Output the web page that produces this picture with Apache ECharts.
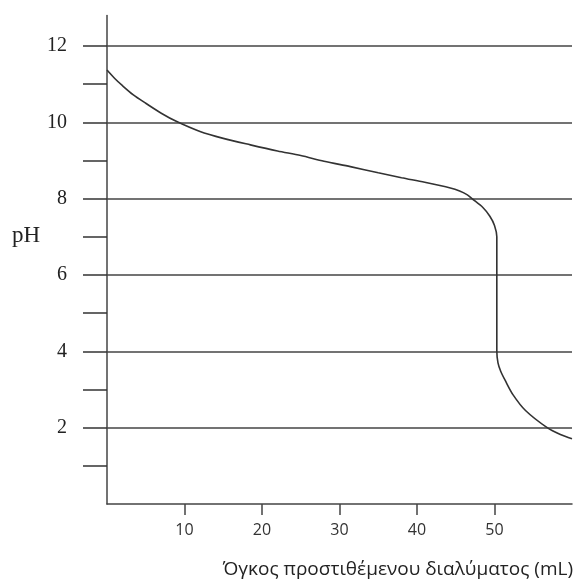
<!DOCTYPE html>
<html>
<head>
<meta charset="utf-8">
<script src="https://cdn.jsdelivr.net/npm/echarts@6/dist/echarts.min.js"></script>
<style>
html,body{margin:0;padding:0;background:#fff;}
#chart{width:581px;height:579px;}
</style>
</head>
<body>
<div id="chart"></div>
<script>
var volume = [0, 1, 2, 3.4, 5, 7, 9, 12, 15, 18.5, 22, 25, 28, 31.4, 35, 38, 41, 44.3, 45.5, 46.5, 47.1, 48.5, 49.4, 50.0, 50.3, 50.3, 50.45, 50.8, 51.4, 52.4, 54, 56.8, 58.5, 60];
var phValues = [11.37, 11.15, 10.96, 10.72, 10.5, 10.24, 10.02, 9.76, 9.58, 9.41, 9.25, 9.13, 8.98, 8.84, 8.68, 8.55, 8.43, 8.28, 8.2, 8.1, 8.0, 7.77, 7.54, 7.3, 7.0, 4.0, 3.7, 3.48, 3.23, 2.86, 2.45, 2.0, 1.82, 1.71];
var yTicks = [1,2,3,4,5,6,7,8,9,10,11,12];
var yLabels = [2,4,6,8,10,12];
var xTicks = [10,20,30,40,50];
var xLabels = [10,20,30,40,50];
var yName = 'pH';
var xName = 'Όγκος προστιθέμενου διαλύματος (mL)';

var chart = echarts.init(document.getElementById('chart'));
var data = volume.map(function(v, i){ return [v, phValues[i]]; });
chart.setOption({
  animation: false,
  backgroundColor: '#fff',
  title: [
    {text: yName, left: 12, top: 224, padding: 0, textStyle: {fontFamily: 'Liberation Serif', fontSize: 23, fontWeight: 'normal', color: '#222'}},
    {text: xName, right: 8, top: 560, padding: 0, textStyle: {fontFamily: 'Open Sans', fontSize: 19, fontWeight: 'normal', color: '#222'}}
  ],
  grid: {left: 107, right: 9, top: 15.5, bottom: 75},
  xAxis: {
    type: 'value', min: 0, max: 60, interval: 10,
    axisLine: {show: true, lineStyle: {color: '#444', width: 1.5}},
    axisTick: {show: true, customValues: xTicks, length: 11, lineStyle: {color: '#444', width: 1.5}},
    axisLabel: {customValues: xLabels, margin: 18, fontFamily: 'Open Sans', fontSize: 16, color: '#333'},
    splitLine: {show: false}
  },
  yAxis: {
    type: 'value', min: 0, max: 12.8, interval: 1,
    axisLine: {show: true, lineStyle: {color: '#444', width: 1.5}},
    axisTick: {show: true, customValues: yTicks, length: 24, lineStyle: {color: '#333', width: 1.5}},
    axisLabel: {customValues: yLabels, margin: 40, fontFamily: 'Liberation Serif', fontSize: 20, color: '#222'},
    splitLine: {show: true, lineStyle: {color: ['rgba(0,0,0,0)', '#444'], width: 1.5}}
  },
  series: [{
    type: 'line', data: data, showSymbol: false, smooth: 0.3,
    lineStyle: {color: '#333', width: 1.6}
  }]
});
</script>
</body>
</html>
